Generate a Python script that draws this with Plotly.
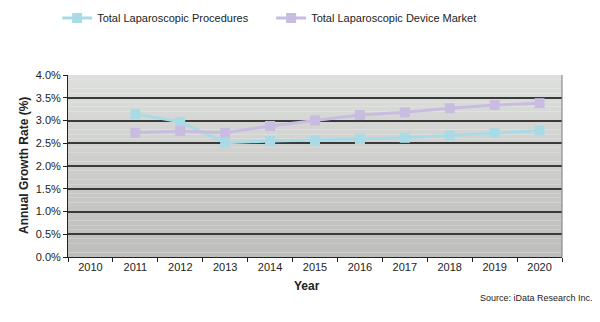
import plotly.graph_objects as go

# Data
years = ["2010", "2011", "2012", "2013", "2014", "2015", "2016", "2017", "2018", "2019", "2020"]
procedures = [None, 3.14, 2.97, 2.51, 2.55, 2.57, 2.59, 2.62, 2.67, 2.73, 2.78]
device_market = [None, 2.73, 2.77, 2.73, 2.88, 3.00, 3.12, 3.18, 3.27, 3.34, 3.38]
y_ticks = [0.0, 0.5, 1.0, 1.5, 2.0, 2.5, 3.0, 3.5, 4.0]
y_tick_text = [f"{v:.1f}%" for v in y_ticks]

proc_color = "#a9dbe6"
dev_color = "#c8bde0"

fig = go.Figure()
fig.add_trace(go.Scatter(
    x=years, y=procedures, name="Total Laparoscopic Procedures",
    mode="lines+markers",
    line=dict(color=proc_color, width=3),
    marker=dict(symbol="square", size=10, color=proc_color),
))
fig.add_trace(go.Scatter(
    x=years, y=device_market, name="Total Laparoscopic Device Market",
    mode="lines+markers",
    line=dict(color=dev_color, width=3),
    marker=dict(symbol="square", size=10, color=dev_color),
))

# Vertical grey gradient behind the plot area
shapes = []
n_bands = 40
top_rgb = (221, 223, 220)
bot_rgb = (189, 189, 187)
for i in range(n_bands):
    t = i / (n_bands - 1)
    r, g, b = (round(top_rgb[k] + (bot_rgb[k] - top_rgb[k]) * t) for k in range(3))
    shapes.append(dict(
        type="rect", xref="x domain", yref="y domain", layer="below",
        x0=0, x1=1, y0=1 - (i + 1) / n_bands, y1=1 - i / n_bands,
        fillcolor=f"rgb({r},{g},{b})", line=dict(width=0),
    ))
# Right border of the plot area
shapes.append(dict(type="line", xref="x domain", yref="y domain", layer="above",
                   x0=1, x1=1, y0=0, y1=1, line=dict(color="#7a7a7a", width=1)))

fig.update_layout(
    width=600, height=322,
    margin=dict(l=68, r=38, t=75, b=65, autoexpand=False),
    paper_bgcolor="white",
    plot_bgcolor="rgba(0,0,0,0)",
    font=dict(family="Liberation Sans, Arial, sans-serif", size=11, color="#222"),
    shapes=shapes,
    showlegend=True,
    legend=dict(
        orientation="h", x=-0.022, xanchor="left", y=(257 - 18) / 182, yanchor="middle",
        font=dict(size=11, color="#222"),
        entrywidth=169, entrywidthmode="pixels", bgcolor="rgba(0,0,0,0)",
        itemwidth=30,
    ),
    annotations=[
        dict(text="<b>Annual Growth Rate (%)</b>", textangle=-90,
             xref="paper", yref="paper", x=(24 - 68) / 494, y=0.5,
             xanchor="center", yanchor="middle", showarrow=False,
             font=dict(size=12, color="#222")),
        dict(text="<b>Year</b>", xref="paper", yref="paper",
             x=(307 - 68) / 494, y=(257 - 286) / 182,
             xanchor="center", yanchor="middle", showarrow=False,
             font=dict(size=12, color="#222")),
        dict(text="Source: iData Research Inc.", xref="paper", yref="paper",
             x=(595 - 68) / 494, y=(257 - 298) / 182,
             xanchor="right", yanchor="middle", showarrow=False,
             font=dict(size=9, color="#222")),
    ],
)

fig.update_xaxes(
    type="category", categoryorder="array", categoryarray=years,
    range=[-0.5, 10.5], tickson="boundaries",
    ticks="outside", ticklen=4, tickcolor="#222",
    showline=True, linecolor="#222", linewidth=1,
    showgrid=False, zeroline=False,
    tickfont=dict(size=11, color="#222"),
)
fig.update_yaxes(
    range=[0, 4.0], tickvals=y_ticks, ticktext=y_tick_text,
    ticks="outside", ticklen=4, tickcolor="#222",
    showline=True, linecolor="#222", linewidth=1,
    showgrid=True, gridcolor="#3a3a3a", gridwidth=1.5,
    zeroline=False,
    tickfont=dict(size=11, color="#222"),
)

fig.write_html("out.html")
